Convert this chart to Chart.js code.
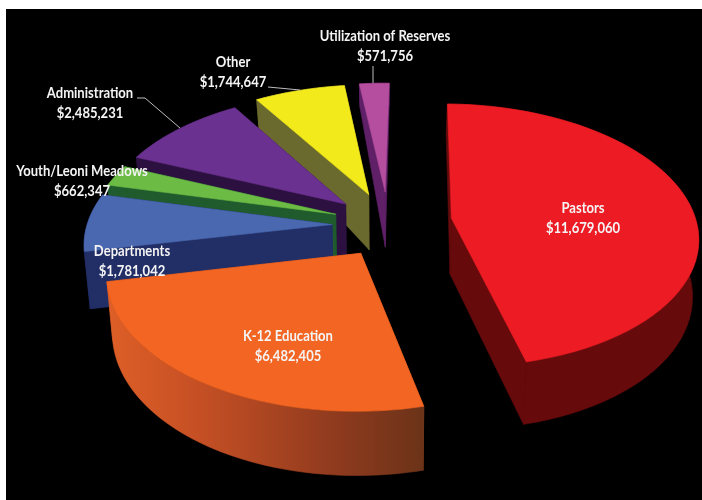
<!DOCTYPE html>
<html><head><meta charset="utf-8">
<style>html,body{margin:0;padding:0;background:#fff;overflow:hidden}canvas{display:block}</style>
<script src="https://cdn.jsdelivr.net/npm/chart.js@4"></script></head>
<body><canvas id="c" width="702" height="500"></canvas>
<script>
const categories = ["Pastors","K-12 Education","Departments","Youth/Leoni Meadows","Administration","Other","Utilization of Reserves"];
const amounts = [11679060,6482405,1781042,662347,2485231,1744647,571756];
const topColors = ["#ED1C24","#F26522","#4968B0","#6CBB45","#6B3190","#F3EA1B","#B54E9E"];
const sideColors = ["#670A0C","#A8461F","#222E66","#1F5B2C","#2B1040","#6B6A2E","#5F2068"];
const sliceOffsets = [67,55,50,47,50,50,54];

const view = {cx:385, cy:222, s:0.531, p:0.000535, R:245, shrink:0.98};
const nudges = [[0,0],[6,6],[-3,3],[-5,0],[-2,-1],[0,-3],[3,-2]];
const paintOrder = [6,5,4,3,2,0,1];
const labelSpots = [[583,208],[288,336],[132,251],[82,171],[90,93],[233,62],[385,36]];
const leaders = [
  [[137,98],[145,98],[180,128]],
  [[268,87],[300,90]],
  [[373,66],[373,83]]
];

function project(u,v){
  const k = 1/(1 - view.p*v);
  return {x:view.cx + u*k, y:view.cy + view.s*v*k};
}
function depthAt(v){ return v<0 ? 56 - 31*(v/290)*(v/290) : 56 + v*0.028; }
function poly(ctx,pts,fill){
  ctx.beginPath();
  pts.forEach((p,i)=> i?ctx.lineTo(p.x,p.y):ctx.moveTo(p.x,p.y));
  ctx.closePath();
  ctx.fillStyle=fill; ctx.strokeStyle=fill; ctx.lineWidth=0.6;
  ctx.fill(); ctx.stroke();
}
const prism = {
  id:'prism',
  beforeDraw(chart){
    const ctx=chart.ctx;
    ctx.save();
    ctx.fillStyle='#fff'; ctx.fillRect(0,0,702,500);
    ctx.fillStyle='#000'; ctx.fillRect(6,9,696,491);
    ctx.restore();
  },
  beforeDatasetDraw(chart,args){
    const ctx=chart.ctx, meta=chart.getDatasetMeta(args.index);
    ctx.save();
    paintOrder.forEach(i=>{
      const arc=meta.data[i];
      const scale=view.R/arc.outerRadius;
      const off=arc.options.offset, mid=(arc.startAngle+arc.endAngle)/2;
      const au=Math.cos(mid)*off, av=Math.sin(mid)*off;
      const [nx,ny]=nudges[i];
      const P=(u,v,low)=>{
        const q=project(u,v);
        let x=q.x+nx, y=q.y+ny;
        if(low){ x=view.cx+nx+(x-view.cx-nx)*view.shrink; y+=depthAt(v); }
        return {x,y};
      };
      const n=60, rimPlane=[];
      for(let t=0;t<=n;t++){
        const a=arc.startAngle+(arc.endAngle-arc.startAngle)*t/n;
        rimPlane.push([au+Math.cos(a)*arc.outerRadius*scale, av+Math.sin(a)*arc.outerRadius*scale]);
      }
      const topRim=rimPlane.map(p=>P(p[0],p[1],false));
      const lowRim=rimPlane.map(p=>P(p[0],p[1],true));
      const aT=P(au,av,false), aB=P(au,av,true);
      poly(ctx,[aT,topRim[0],lowRim[0],aB],sideColors[i]);
      poly(ctx,[aT,topRim[n],lowRim[n],aB],sideColors[i]);
      let rimFill=sideColors[i];
      if(i===1){
        const g=ctx.createLinearGradient(107,0,425,0);
        g.addColorStop(0,'#DE5F27'); g.addColorStop(0.3,'#C44F24');
        g.addColorStop(0.72,'#8F3A1E'); g.addColorStop(1,'#6B3318');
        rimFill=g;
      }
      poly(ctx,topRim.concat(lowRim.slice().reverse()),rimFill);
      poly(ctx,[aT].concat(topRim),topColors[i]);
    });
    ctx.restore();
    return false;
  },
  afterDatasetsDraw(chart){
    const ctx=chart.ctx;
    ctx.save();
    ctx.strokeStyle='#BDBDBD'; ctx.lineWidth=1;
    leaders.forEach(l=>{ctx.beginPath();l.forEach((p,i)=>i?ctx.lineTo(p[0],p[1]):ctx.moveTo(p[0],p[1]));ctx.stroke();});
    ctx.fillStyle='#F4F4F4'; ctx.textAlign='center'; ctx.textBaseline='middle';
    ctx.font='bold 14.5px Lato';
    const put=(t,x,y)=>{ctx.save();ctx.translate(x,y);ctx.scale(0.9,1);ctx.fillText(t,0,0);ctx.restore();};
    categories.forEach((name,i)=>{
      const [x,y]=labelSpots[i];
      put(name,x,y);
      put('$'+amounts[i].toLocaleString('en-US'),x,y+20);
    });
    ctx.restore();
  }
};
new Chart(document.getElementById('c'),{
  type:'pie',
  data:{labels:categories,datasets:[{data:amounts,backgroundColor:topColors,offset:sliceOffsets,borderWidth:0}]},
  options:{responsive:false,animation:false,rotation:1,
    plugins:{legend:{display:false},tooltip:{enabled:false}},events:[]},
  plugins:[prism]
});
</script></body></html>
